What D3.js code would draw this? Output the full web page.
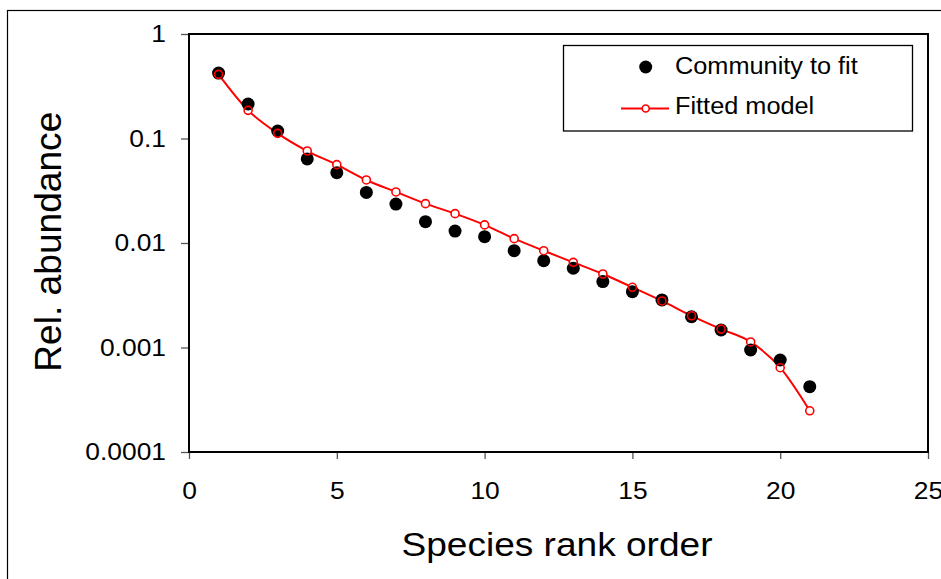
<!DOCTYPE html>
<html><head><meta charset="utf-8">
<script src="https://cdn.jsdelivr.net/npm/d3@7"></script>
<style>
body{margin:0;background:#fff;overflow:hidden}
svg{display:block;font-family:Arial,"Liberation Sans",sans-serif}
</style>
</head><body>
<svg id="c" width="941" height="579"></svg>
<script>
// ---- data ----
const ranks = [1,2,3,4,5,6,7,8,9,10,11,12,13,14,15,16,17,18,19,20,21];
const community = [0.423,0.214,0.118,0.0637,0.0471,0.0305,0.0236,0.0160,0.0130,0.0115,0.00844,0.00677,0.00573,0.00427,0.00342,0.00285,0.00197,0.00147,0.000946,0.000759,0.000422];
const fitted = [0.411,0.186,0.112,0.0759,0.0562,0.0401,0.0308,0.0238,0.0191,0.0149,0.0110,0.00844,0.00653,0.00505,0.00377,0.00279,0.00201,0.00150,0.00113,0.000641,0.000248];
const xTicks = [0,5,10,15,20,25];
const yTicks = [1,0.1,0.01,0.001,0.0001];
const yTickLabels = ["1","0.1","0.01","0.001","0.0001"];
const seriesNames = ["Community to fit","Fitted model"];
const axisTitles = {x:"Species rank order", y:"Rel. abundance"};

// ---- layout ----
const svg = d3.select("#c");
const L = 189, R = 928, T = 34, B = 452;
const x = d3.scaleLinear().domain([0,25]).range([L,R]);
const y = d3.scaleLog().domain([0.0001,1]).range([B,T]);

function stretch(sel, f){
  sel.each(function(){
    const w = this.getComputedTextLength();
    d3.select(this).attr("textLength", w*f).attr("lengthAdjust","spacingAndGlyphs");
  });
}

// outer border
svg.append("rect").attr("x",7.5).attr("y",10.5).attr("width",960).attr("height",600)
  .attr("fill","none").attr("stroke","#000").attr("stroke-width",1.2);

// axes
const yAxis = svg.append("g").attr("transform",`translate(${L},0)`)
  .call(d3.axisLeft(y).tickValues(yTicks).tickFormat((d,i)=>yTickLabels[i]).tickSize(8).tickPadding(15));
const xAxis = svg.append("g").attr("transform",`translate(0,${B})`)
  .call(d3.axisBottom(x).tickValues(xTicks).tickFormat(d3.format("d")).tickSize(7).tickPadding(23));
[yAxis,xAxis].forEach(a=>{
  a.select(".domain").remove();
  a.selectAll(".tick line").attr("stroke","#555").attr("stroke-width",1.3);
  a.selectAll(".tick text").attr("font-size",24).attr("fill","#000").attr("font-family","Arial, 'Liberation Sans', sans-serif");
});
stretch(yAxis.selectAll(".tick text"),1.1);
stretch(xAxis.selectAll(".tick text"),1.1);

// plot frame
svg.append("rect").attr("x",L).attr("y",T).attr("width",R-L).attr("height",B-T)
  .attr("fill","none").attr("stroke","#000").attr("stroke-width",2);

// fitted line
const fitData = ranks.map((r,i)=>({r, v:fitted[i]}));
const comData = ranks.map((r,i)=>({r, v:community[i]}));
svg.append("path").datum(fitData)
  .attr("d", d3.line().x(d=>x(d.r)).y(d=>y(d.v)).curve(d3.curveCatmullRom.alpha(0)))
  .attr("fill","none").attr("stroke","#ff0000").attr("stroke-width",2);
// white backing for fitted markers
svg.append("g").selectAll("circle").data(fitData).join("circle")
  .attr("cx",d=>x(d.r)).attr("cy",d=>y(d.v)).attr("r",4).attr("fill","#fff");
// community dots
svg.append("g").selectAll("circle").data(comData).join("circle")
  .attr("cx",d=>x(d.r)).attr("cy",d=>y(d.v)).attr("r",6.5).attr("fill","#000");
// fitted marker outlines
svg.append("g").selectAll("circle").data(fitData).join("circle")
  .attr("cx",d=>x(d.r)).attr("cy",d=>y(d.v)).attr("r",4)
  .attr("fill","none").attr("stroke","#ff0000").attr("stroke-width",1.6);

// legend
const lg = svg.append("g");
lg.append("rect").attr("x",563.5).attr("y",45.5).attr("width",349).attr("height",85.5)
  .attr("fill","#fff").attr("stroke","#000").attr("stroke-width",1.3);
lg.append("circle").attr("cx",645.7).attr("cy",67).attr("r",6.5).attr("fill","#000");
lg.append("line").attr("x1",621).attr("x2",669).attr("y1",108.5).attr("y2",108.5)
  .attr("stroke","#ff0000").attr("stroke-width",2);
lg.append("circle").attr("cx",645.7).attr("cy",108.5).attr("r",3.5)
  .attr("fill","#fff").attr("stroke","#ff0000").attr("stroke-width",1.6);
const lt = lg.selectAll("text.lt").data(seriesNames).join("text").attr("class","lt")
  .attr("x",675).attr("y",(d,i)=>i===0?73.5:113.5).attr("font-size",23).attr("fill","#000")
  .text(d=>d);
stretch(lt,1.1);

// axis titles
svg.append("text").attr("x",557).attr("y",556).attr("text-anchor","middle")
  .attr("font-size",34).attr("fill","#000").attr("textLength",311).attr("lengthAdjust","spacingAndGlyphs")
  .text(axisTitles.x);
svg.append("text").attr("transform","translate(61,241.7) rotate(-90)").attr("text-anchor","middle")
  .attr("font-size",37).attr("fill","#000").attr("textLength",260).attr("lengthAdjust","spacingAndGlyphs")
  .text(axisTitles.y);
</script>
</body></html>
